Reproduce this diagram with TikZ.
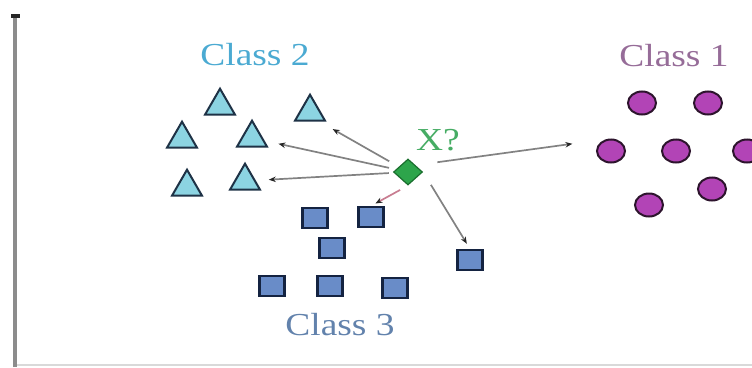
\documentclass[tikz,border=0pt]{standalone}
\usepackage{fontspec}
\setmainfont{Liberation Serif}
\usepackage{graphicx}
\usetikzlibrary{shapes.geometric,arrows.meta}

\definecolor{trifill}{RGB}{140,212,226}
\definecolor{tridraw}{RGB}{30,50,70}
\definecolor{sqfill}{RGB}{105,140,200}
\definecolor{sqdraw}{RGB}{20,35,65}
\definecolor{dotfill}{RGB}{178,68,182}
\definecolor{dotdraw}{RGB}{45,20,45}
\definecolor{qfill}{RGB}{45,165,75}
\definecolor{qdraw}{RGB}{25,110,45}
\definecolor{txtone}{RGB}{150,108,152}
\definecolor{txttwo}{RGB}{75,170,210}
\definecolor{txtthree}{RGB}{98,130,172}
\definecolor{txtq}{RGB}{70,172,100}
\definecolor{votegray}{RGB}{130,130,130}
\definecolor{votepink}{RGB}{200,125,145}

\newcommand\stretchtxt[1]{\scalebox{1.17}[1]{#1}}

\begin{document}
\begin{tikzpicture}[x=1pt,y=-1pt,
  >={Stealth[length=7pt,width=5.5pt,color=black!85]},
  tri/.style={regular polygon,regular polygon sides=3,minimum size=34.6pt,inner sep=0pt,
    draw=tridraw,fill=trifill,line width=2pt},
  sq/.style={rectangle,minimum width=25pt,minimum height=20pt,inner sep=0pt,
    draw=sqdraw,fill=sqfill,line width=2.2pt},
  dot/.style={ellipse,minimum width=28pt,minimum height=23pt,inner sep=0pt,
    draw=dotdraw,fill=dotfill,line width=2pt},
  query/.style={diamond,minimum width=29pt,minimum height=26pt,inner sep=0pt,
    draw=qdraw,fill=qfill,line width=1.2pt},
  lbl/.style={anchor=base,inner sep=0pt,font=\fontsize{32}{36}\selectfont},
  vote/.style={->,draw=votegray,line width=1.7pt}]
  \useasboundingbox (0,0) rectangle (752,367);

  % axes
  \coordinate (origin) at (15,367);
  \coordinate (ytop) at (15,14);
  \coordinate (xend) at (752,365);
  \draw[black!15,line width=2pt] (origin |- xend) -- (xend);
  \draw[black!45,line width=4pt,-{Rectangle[length=4pt,width=9pt,color=black!85]}] (origin) -- (ytop);

  % class 2
  \node[tri] (t1) at (220,106) {};
  \node[tri] (t2) at (310,112) {};
  \node[tri] (t3) at (182,139) {};
  \node[tri] (t4) at (252,138) {};
  \node[tri] (t5) at (187,187) {};
  \node[tri] (t6) at (245,181) {};
  \node[lbl,text=txttwo] (lab2) at (255,65) {\stretchtxt{Class 2}};

  % class 3
  \node[sq] (s1) at (315,218) {};
  \node[sq] (s2) at (371,217) {};
  \node[sq] (s3) at (332,248) {};
  \node[sq] (s4) at (272,286) {};
  \node[sq] (s5) at (330,286) {};
  \node[sq] (s6) at (395,288) {};
  \node[sq] (s7) at (470,260) {};
  \node[lbl,text=txtthree] (lab3) at (340,335) {\stretchtxt{Class 3}};

  % class 1
  \node[dot] (c1) at (642,103) {};
  \node[dot] (c2) at (708,103) {};
  \node[dot] (c3) at (611,151) {};
  \node[dot] (c4) at (676,151) {};
  \node[dot] (c5) at (747,151) {};
  \node[dot] (c6) at (712,189) {};
  \node[dot] (c7) at (649,205) {};
  \node[lbl,text=txtone] (lab1) at (674,66) {\stretchtxt{Class 1}};

  % query point
  \node[query] (x) at (408,172) {};
  \node[lbl,text=txtq] (labx) at (438,150) {\stretchtxt{X?}};

  \draw[vote,shorten <=11pt,shorten >=15pt] (x) -- (t2.south east);
  \draw[vote,shorten <=7pt,shorten >=14pt] (x) -- (t4);
  \draw[vote,shorten <=5pt,shorten >=13pt] (x) -- (t6);
  \draw[vote,draw=votepink,shorten <=9pt,shorten >=5pt] (x.south) -- (s2.north);
  \draw[vote,shorten <=15pt,shorten >=6pt] (x.east) -- (s7.north);
  \draw[vote,shorten <=22pt,shorten >=39pt] (x.north east) -- (c3.north);
\end{tikzpicture}
\end{document}
